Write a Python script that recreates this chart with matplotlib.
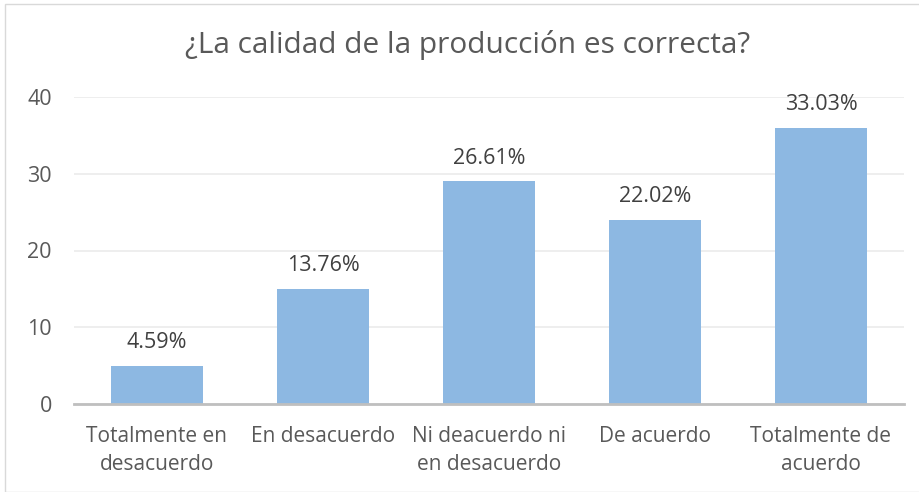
import matplotlib
matplotlib.use("Agg")
import matplotlib.pyplot as plt
from matplotlib.patches import Rectangle

categories = ["Totalmente en\ndesacuerdo", "En desacuerdo", "Ni deacuerdo ni\nen desacuerdo", "De acuerdo", "Totalmente de\nacuerdo"]
values = [5, 15, 29, 24, 36]
labels = ["4.59%", "13.76%", "26.61%", "22.02%", "33.03%"]
yticks = [0, 10, 20, 30, 40]
title = "¿La calidad de la producción es correcta?"

plt.rcParams['font.family'] = ['Open Sans', 'DejaVu Sans']
txt = "#595959"

fig = plt.figure(figsize=(9.19, 4.92), dpi=100)
ax = fig.add_axes([74/919, 1-404/492, 830/919, 307/492])
x = list(range(len(categories)))
ax.bar(x, values, width=0.56, color="#8DB8E2", zorder=3)
for xi, v, l in zip(x, values, labels):
    ax.annotate(l, (xi, v), xytext=(0, 9), textcoords="offset points",
                ha="center", va="bottom", fontsize=15.5, color="#404040")
ax.set_xlim(-0.5, 4.5)
ax.set_ylim(0, 40)
ax.set_yticks(yticks)
ax.set_xticks(x)
ax.set_xticklabels(categories, fontsize=15, color=txt, linespacing=1.45)
ax.tick_params(axis="y", labelsize=15.5, labelcolor=txt, length=0, pad=16)
ax.tick_params(axis="x", length=0, pad=16)
ax.grid(axis="y", color="#EBEBEB", linewidth=1.2, zorder=0)
for s in ["top", "right", "left"]:
    ax.spines[s].set_visible(False)
ax.spines["bottom"].set_color("#BFBFBF")
ax.spines["bottom"].set_linewidth(2)
ax.spines["bottom"].set_zorder(4)

fig.text(468/919, 1-45/492, title, ha="center", va="center", fontsize=21.5, color=txt)
fig.patches.append(Rectangle((5/919, 0), 1, 1-4/492, transform=fig.transFigure,
                             fill=False, edgecolor="#D9D9D9", linewidth=1))
fig.savefig("out.png", dpi=100)
